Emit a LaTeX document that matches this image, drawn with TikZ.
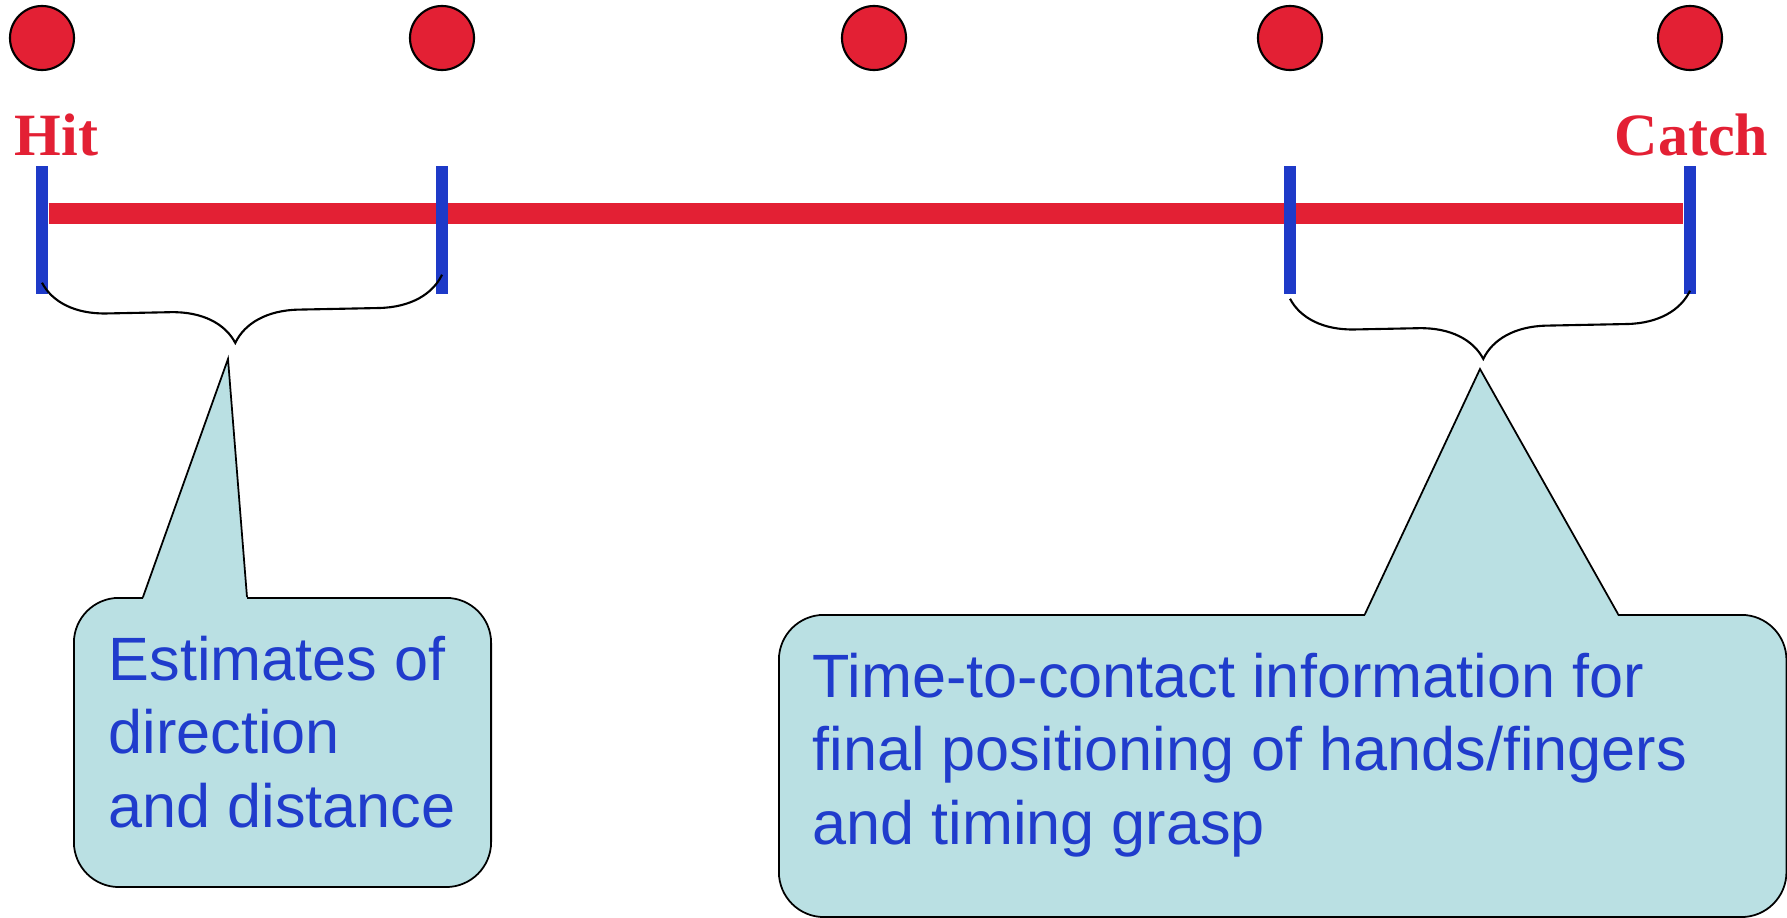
\documentclass[tikz,border=0pt]{standalone}
\usepackage{fontspec}
\setmainfont{Liberation Serif}
\setsansfont{Liberation Sans}
\usepackage{tikz}
\usetikzlibrary{calc,decorations.pathreplacing,backgrounds}
\definecolor{ballred}{RGB}{227,32,52}
\definecolor{tickblue}{RGB}{30,58,200}
\definecolor{textblue}{RGB}{32,60,204}
\definecolor{boxcyan}{RGB}{186,224,227}
\tikzset{
	ball/.style={circle, draw=black, line width=0.6pt, fill=ballred, minimum size=0.64cm, inner sep=0pt},
	tickbar/.style={rectangle, fill=tickblue, minimum width=0.12cm, minimum height=1.28cm, inner sep=0pt},
	endlabel/.style={text=ballred, font=\fontsize{17.07pt}{20pt}\selectfont\bfseries, inner sep=0pt},
	callbox/.style={rectangle, rounded corners=0.45cm, draw=black, line width=0.5pt, fill=boxcyan, inner sep=0pt},
	calltext/.style={text=textblue, font=\sffamily\fontsize{17.4pt}{20.78pt}\selectfont, align=left, inner sep=0pt},
	curly/.style={draw=black, line width=0.6pt, decorate, decoration={brace, amplitude=0.64cm, aspect=0.52}},
}

\begin{document}
\begin{tikzpicture}[x=0.01cm, y=-0.01cm]
		%%%%% START %%%%%
		\useasboundingbox (0,0) rectangle (1787,918);
		
		\node[ball] (ball1) at (42,38) {};
		\node[ball] (ball2) at (442,38) {};
		\node[ball] (ball3) at (874,38) {};
		\node[ball] (ball4) at (1290,38) {};
		\node[ball] (ball5) at (1690,38) {};
		
		\node[endlabel, anchor=base west] (hitlabel) at (14,155) {Hit};
		\node[endlabel, anchor=base east] (catchlabel) at (1769,155) {Catch};
		
		\node[tickbar] (tick1) at (42,230) {};
		\node[tickbar] (tick2) at (442,230) {};
		\node[tickbar] (tick3) at (1290,230) {};
		\node[tickbar] (tick4) at (1690,230) {};
		\begin{scope}[on background layer]
			\draw[line width=0.21cm, ballred] ([yshift=0.165cm]tick1.east) -- ([yshift=0.165cm]tick4.west);
		\end{scope}
		
		\draw[curly] ([yshift=0.2cm]tick2.south) -- ([yshift=0.12cm]tick1.south);
		\draw[curly] ([yshift=0.04cm]tick4.south) -- ([yshift=-0.04cm]tick3.south);
		
		% base anchor sits on the last line
		\node[callbox, minimum width=4.17cm, minimum height=2.89cm, anchor=north west] (estbox) at (73,597) {};
		\coordinate (esttip) at (228,359);
		\fill[boxcyan] ($(estbox.north west)+(70,2)$) -- (esttip) -- ($(estbox.north west)+(174,2)$) -- cycle;
		\draw[line width=0.5pt] ($(estbox.north west)+(70,0)$) -- (esttip) -- ($(estbox.north west)+(174,0)$);
		\node[calltext, anchor=base west] (esttext) at ($(estbox.north west)+(35,230)$) {Estimates of\\direction\\and distance};
		
		\node[callbox, minimum width=10.07cm, minimum height=3.02cm, anchor=north west] (ttcbox) at (778,614) {};
		\coordinate (ttctip) at (1480,369);
		\fill[boxcyan] ($(ttcbox.north west)+(587,2)$) -- (ttctip) -- ($(ttcbox.north west)+(840,2)$) -- cycle;
		\draw[line width=0.5pt] ($(ttcbox.north west)+(587,0)$) -- (ttctip) -- ($(ttcbox.north west)+(840,0)$);
		\node[calltext, anchor=base west] (ttctext) at ($(ttcbox.north west)+(34,230)$) {Time-to-contact information for\\final positioning of hands/fingers\\and timing grasp};
		
		%%%%% END %%%%%
\end{tikzpicture}
\end{document}
